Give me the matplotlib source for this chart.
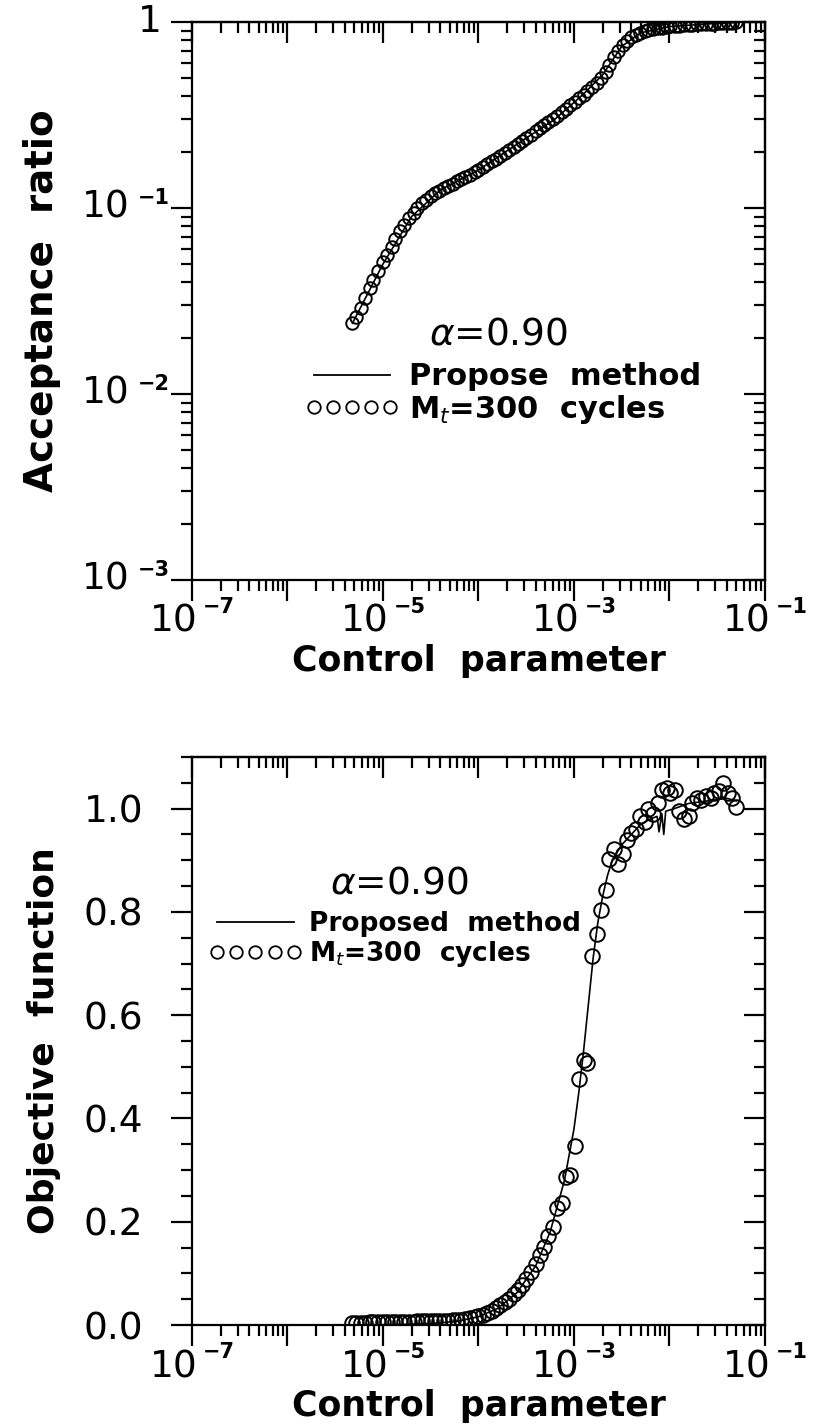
import matplotlib
matplotlib.use("Agg")
import matplotlib.pyplot as plt
import numpy as np
from matplotlib.ticker import FixedLocator, LogLocator, NullFormatter, MultipleLocator, FormatStrFormatter
from matplotlib.lines import Line2D

plt.rcParams['font.family'] = ['DejaVu Sans']
plt.rcParams['mathtext.fontset'] = 'dejavusans'

# control parameter (log10), one value per cooling step
log_t = [-5.32, -5.28, -5.23, -5.19, -5.14, -5.10, -5.05, -5.00, -4.96, -4.91,
         -4.87, -4.82, -4.78, -4.73, -4.68, -4.64, -4.59, -4.55, -4.50, -4.46,
         -4.41, -4.36, -4.32, -4.27, -4.23, -4.18, -4.14, -4.09, -4.04, -4.00,
         -3.95, -3.91, -3.86, -3.82, -3.77, -3.72, -3.68, -3.63, -3.59, -3.54,
         -3.50, -3.45, -3.40, -3.36, -3.31, -3.27, -3.22, -3.18, -3.13, -3.08,
         -3.04, -2.99, -2.95, -2.90, -2.86, -2.81, -2.76, -2.72, -2.67, -2.63,
         -2.58, -2.54, -2.49, -2.44, -2.40, -2.35, -2.31, -2.26, -2.22, -2.17,
         -2.12, -2.08, -2.03, -1.99, -1.94, -1.90, -1.85, -1.80, -1.76, -1.71,
         -1.67, -1.62, -1.57, -1.53, -1.48, -1.44, -1.39, -1.35, -1.30]

# acceptance ratio, Mt=300 cycles
accept_ratio = [0.024, 0.026, 0.029, 0.033, 0.037, 0.041, 0.046, 0.051, 0.056, 0.062,
                0.068, 0.075, 0.081, 0.088, 0.094, 0.100, 0.106, 0.111, 0.116, 0.120,
                0.124, 0.128, 0.131, 0.135, 0.139, 0.143, 0.147, 0.151, 0.156, 0.161,
                0.166, 0.172, 0.178, 0.184, 0.191, 0.198, 0.205, 0.213, 0.221, 0.230,
                0.239, 0.248, 0.258, 0.268, 0.279, 0.290, 0.302, 0.314, 0.327, 0.341,
                0.356, 0.372, 0.389, 0.407, 0.426, 0.446, 0.470, 0.500, 0.540, 0.590,
                0.645, 0.700, 0.750, 0.792, 0.826, 0.853, 0.874, 0.891, 0.905, 0.916,
                0.926, 0.934, 0.941, 0.947, 0.952, 0.957, 0.961, 0.965, 0.968, 0.971,
                0.974, 0.977, 0.979, 0.981, 0.983, 0.985, 0.987, 0.989, 0.995]

# objective function (normalised), Mt=300 cycles
objective = [0.004, 0.004, 0.004, 0.004, 0.005, 0.005, 0.005, 0.005, 0.005, 0.005,
             0.006, 0.006, 0.006, 0.006, 0.006, 0.007, 0.007, 0.007, 0.008, 0.008,
             0.007, 0.008, 0.008, 0.009, 0.009, 0.010, 0.011, 0.013, 0.015, 0.018,
             0.020, 0.023, 0.027, 0.032, 0.038, 0.044, 0.051, 0.060, 0.068, 0.078,
             0.090, 0.102, 0.118, 0.135, 0.152, 0.172, 0.190, 0.226, 0.236, 0.286,
             0.291, 0.347, 0.476, 0.513, 0.507, 0.714, 0.758, 0.803, 0.843, 0.903,
             0.921, 0.892, 0.913, 0.940, 0.952, 0.960, 0.985, 0.975, 1.000, 0.990,
             1.010, 1.036, 1.040, 1.030, 1.036, 0.995, 0.980, 0.985, 1.010, 1.020,
             1.017, 1.025, 1.020, 1.030, 1.035, 1.050, 1.030, 1.020, 1.003]

# proposed method curves
top_line_log_t = [-5.32, -5.0, -4.7, -4.4, -4.0, -3.6, -3.2, -2.9, -2.7, -2.5, -2.3, -2.0, -1.6, -1.3]
top_line_ratio = [0.024, 0.05, 0.09, 0.125, 0.16, 0.22, 0.30, 0.41, 0.52, 0.74, 0.875, 0.945, 0.977, 0.993]

line_log_t = [-5.32, -4.8, -4.4, -4.2, -4.0, -3.8, -3.6, -3.4, -3.25, -3.1,
              -3.0, -2.95, -2.9, -2.85, -2.8, -2.75, -2.7, -2.65, -2.6, -2.5,
              -2.4, -2.3, -2.2, -2.13, -2.11, -2.08, -2.06, -2.04, -1.95, -1.8,
              -1.6, -1.4, -1.3]
line_obj = [0.0, 0.001, 0.004, 0.008, 0.016, 0.032, 0.062, 0.115, 0.18, 0.28,
            0.38, 0.45, 0.53, 0.62, 0.71, 0.78, 0.83, 0.87, 0.90, 0.93,
            0.95, 0.97, 0.98, 0.985, 0.955, 0.99, 0.95, 0.995, 1.0, 1.01,
            1.015, 1.02, 1.015]

W, H = 819, 1425
LW = 1.6


def box(left, top, right, bottom):
    return [left / W, 1 - bottom / H, (right - left) / W, (bottom - top) / H]


def setup_x(ax):
    ax.set_xscale('log')
    ax.set_xlim(1e-7, 1e-1)
    for a in (ax, ax.secondary_xaxis('top')):
        a.xaxis.set_major_locator(FixedLocator(10.0 ** np.arange(-7, 0)))
        a.xaxis.set_minor_locator(LogLocator(base=10, subs=np.arange(2, 10), numticks=20))
        a.xaxis.set_major_formatter(NullFormatter())
        a.xaxis.set_minor_formatter(NullFormatter())
        d = 'out' if a is ax else 'in'
        a.tick_params(axis='x', which='major', direction=d, length=15, width=LW)
        a.tick_params(axis='x', which='minor', direction=d, length=8, width=LW)
        for s in a.spines.values():
            s.set_linewidth(LW)
    ax.tick_params(axis='x', top=False)
    for e in (-7, -5, -3, -1):
        ax.annotate('10', xy=(10.0 ** e, 0), xycoords=('data', 'axes fraction'),
                    xytext=(-18, -24), textcoords='offset pixels', ha='center', va='top',
                    fontsize=27, annotation_clip=False)
        ax.annotate('\u2212%d' % -e, xy=(10.0 ** e, 0), xycoords=('data', 'axes fraction'),
                    xytext=(11, -17), textcoords='offset pixels', ha='left', va='top',
                    fontsize=15, fontweight='bold', annotation_clip=False)
    ax.set_xlabel('Control  parameter', fontsize=25, fontweight='bold')


def right_ticks(ax):
    sec = ax.secondary_yaxis('right')
    sec.yaxis.set_major_locator(ax.yaxis.get_major_locator())
    sec.yaxis.set_minor_locator(ax.yaxis.get_minor_locator())
    sec.yaxis.set_major_formatter(NullFormatter())
    sec.yaxis.set_minor_formatter(NullFormatter())
    sec.tick_params(axis='y', which='major', direction='in', length=15, width=LW)
    sec.tick_params(axis='y', which='minor', direction='in', length=8, width=LW)
    sec.spines['right'].set_linewidth(LW)


def add_key(ax, label, alpha_xy, anchor, size, hlen):
    ax.text(alpha_xy[0], alpha_xy[1], '$\\alpha$=0.90', transform=ax.transAxes,
            ha='center', va='center', fontsize=27)
    handles = [Line2D([], [], color='k', lw=1.3),
               Line2D([], [], ls='none', marker='o', ms=9, mfc='none', mec='k', mew=1.3)]
    ax.legend(handles, [label, 'M$_t$=300  cycles'], numpoints=5, handlelength=hlen,
              frameon=False, loc='upper left', bbox_to_anchor=anchor,
              prop={'size': size, 'weight': 'bold'}, handletextpad=0.3,
              labelspacing=0.05, borderpad=0, borderaxespad=0)


fig = plt.figure(figsize=(W / 100, H / 100), dpi=100)

# ---- top panel: acceptance ratio
ax1 = fig.add_axes(box(192, 22, 765, 580))
setup_x(ax1)
ax1.set_yscale('log')
ax1.set_ylim(1e-3, 1)
ax1.yaxis.set_major_locator(FixedLocator([1e-3, 1e-2, 1e-1, 1]))
ax1.yaxis.set_minor_locator(LogLocator(base=10, subs=np.arange(2, 10), numticks=20))
ax1.yaxis.set_major_formatter(NullFormatter())
ax1.yaxis.set_minor_formatter(NullFormatter())
ax1.tick_params(axis='y', which='major', direction='out', length=15, width=LW, right=False)
ax1.tick_params(axis='y', which='minor', direction='out', length=8, width=LW, right=False)
right_ticks(ax1)
for e in (-3, -2, -1):
    ax1.annotate('10', xy=(0, 10.0 ** e), xycoords=('axes fraction', 'data'),
                 xytext=(-62, 0), textcoords='offset pixels', ha='right', va='center',
                 fontsize=27, annotation_clip=False)
    ax1.annotate('\u2212%d' % -e, xy=(0, 10.0 ** e), xycoords=('axes fraction', 'data'),
                 xytext=(-22, 10), textcoords='offset pixels', ha='right', va='center',
                 fontsize=15, fontweight='bold', annotation_clip=False)
ax1.annotate('1', xy=(0, 1), xycoords=('axes fraction', 'data'),
             xytext=(-42, 0), textcoords='offset pixels', ha='center', va='center',
             fontsize=27, annotation_clip=False)
ax1.set_ylabel('Acceptance  ratio', fontsize=28, fontweight='bold')
ax1.yaxis.set_label_coords(-0.228, 0.5)
ax1.xaxis.set_label_coords(0.5, -0.115)

ax1.plot(10.0 ** np.array(top_line_log_t), top_line_ratio, color='k', lw=1.2)
ax1.plot(10.0 ** np.array(log_t), accept_ratio, ls='none', marker='o', ms=9,
         mfc='none', mec='k', mew=1.4)
add_key(ax1, 'Propose  method', (0.535, 0.44), (0.197, 0.39), 22, 3.1)

# ---- bottom panel: objective function
ax2 = fig.add_axes(box(192, 757, 765, 1325))
setup_x(ax2)
ax2.set_ylim(0, 1.1)
ax2.yaxis.set_major_locator(MultipleLocator(0.2))
ax2.yaxis.set_minor_locator(MultipleLocator(0.05))
ax2.yaxis.set_major_formatter(FormatStrFormatter('%.1f'))
ax2.tick_params(axis='y', which='major', direction='out', length=15, width=LW,
                right=False, labelsize=27, pad=20)
ax2.tick_params(axis='y', which='minor', direction='out', length=8, width=LW, right=False)
right_ticks(ax2)
ax2.set_ylabel('Objective  function', fontsize=26, fontweight='bold')
ax2.yaxis.set_label_coords(-0.228, 0.5)
ax2.xaxis.set_label_coords(0.5, -0.112)

ax2.plot(10.0 ** np.array(line_log_t), line_obj, color='k', lw=1.2)
ax2.plot(10.0 ** np.array(log_t), objective, ls='none', marker='o', ms=10.5,
         mfc='none', mec='k', mew=1.4)
add_key(ax2, 'Proposed  method', (0.363, 0.778), (0.03, 0.728), 19, 3.5)

fig.savefig('out.png', dpi=100)
